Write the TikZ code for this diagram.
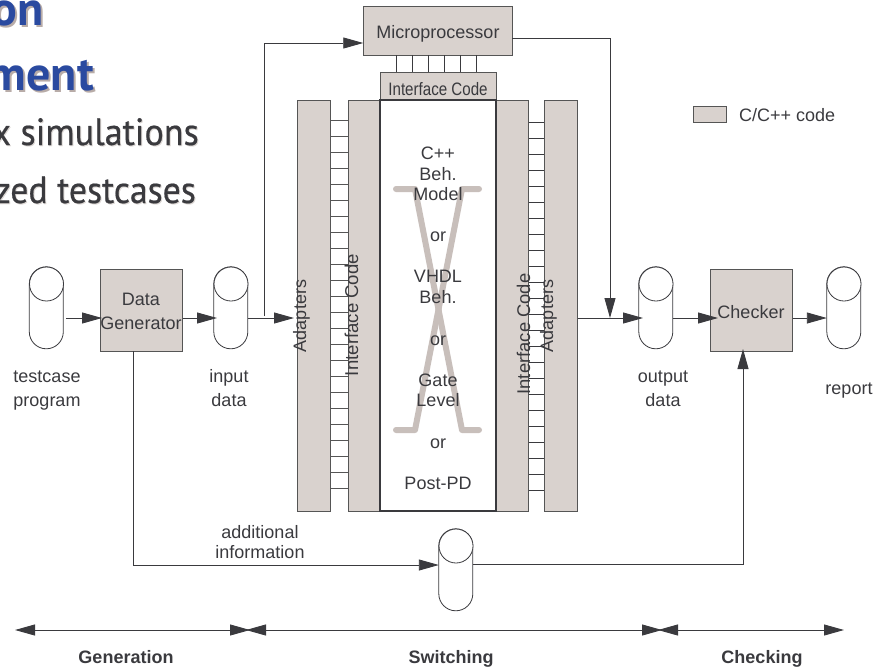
\documentclass[tikz,border=0pt]{standalone}
\usepackage{fontspec}
\setmainfont{Liberation Sans}
\newfontfamily\titlefont{PT Sans}
\newfontfamily\titleb[FakeBold=0.5]{PT Sans}
\usetikzlibrary{arrows.meta}
\definecolor{boxfill}{HTML}{D9D2CE}
\definecolor{ink}{HTML}{3A3A3E}
\definecolor{edge}{HTML}{555555}
\definecolor{xgray}{HTML}{C8BFBB}
\definecolor{titleblue}{HTML}{2A4AA0}
\definecolor{shadowgray}{HTML}{B8ACA8}
\definecolor{faintshadow}{HTML}{DDD8D5}
\tikzset{
  x=1pt,y=-1pt,
  graybox/.style={draw=edge,fill=boxfill,line width=1pt,inner sep=0pt,text=ink},
  lbl/.style={font=\fontsize{18}{18}\selectfont,text=ink,inner sep=0pt,anchor=base},
  rotlbl/.style={lbl,rotate=90},
  boldlbl/.style={lbl,font=\fontsize{18}{18}\selectfont\bfseries},
  conn/.style={draw=ink,line width=0.9pt,-{Triangle[length=20pt,width=11pt]},color=ink},
  plainline/.style={draw=edge,line width=0.9pt},
  dbl/.style={draw=edge,line width=0.9pt,{Triangle[length=20pt,width=11pt]}-{Triangle[length=20pt,width=11pt]},color=ink},
  cylpath/.style={draw=ink,fill=white,line width=0.8pt},
  xline/.style={draw=xgray,line width=6pt,line cap=round,line join=round},
  titleA/.style={font=\titlefont\fontsize{48}{48}\selectfont\bfseries,inner sep=0pt,anchor=base east},
  titleB/.style={font=\titleb\fontsize{38}{38}\selectfont,inner sep=0pt,anchor=base east},
}
\newcommand{\cyl}[3]{% name, left x, top y; 34 wide, 82 high
  \node[minimum width=34pt,minimum height=82pt,inner sep=0pt] (#1) at (#2+17,#3+41) {};
  \path[cylpath] (#1.north west) ++(0,17) -- ++(0,48)
     arc[start angle=180,end angle=360,x radius=17pt,y radius=17pt] -- ++(0,-48)
     arc[start angle=0,end angle=180,x radius=17pt,y radius=17pt] -- cycle;
  \draw[cylpath] (#2+17,#3+17) circle[radius=17pt];
}
\begin{document}
\begin{tikzpicture}
\useasboundingbox (0,0) rectangle (879,670);
\clip (0,0) rectangle (879,670);
% title
\node[titleA,text=shadowgray] at (46,27) {on};
\node[titleA,text=titleblue] (t1) at (44,25) {on};
\node[titleA,text=shadowgray] at (96,92) {ment};
\node[titleA,text=titleblue] (t2) at (94,90) {ment};
\node[titleB,text=faintshadow,xscale=.95] at (200,146) {x simulations};
\node[titleB,text=ink,xscale=.95] (t3) at (199,145) {x simulations};
\node[titleB,text=faintshadow,xscale=.94] at (197,204) {zed testcases};
\node[titleB,text=ink,xscale=.94] (t4) at (196,203) {zed testcases};
% microprocessor
\node[graybox,minimum width=148.5pt,minimum height=49pt] (mp) at (438,30.5) {};
\node[lbl] at (438,38) {Microprocessor};
\foreach \p in {396,412,428,444,460,476} \draw[plainline,draw=ink] (\p,55) -- (\p,72);
% columns
\node[graybox,minimum width=116pt,minimum height=28pt] (ifT) at (438,86) {};
\node[lbl,xscale=.84] at (438,95) {Interface Code};
\node[graybox,minimum width=32.5pt,minimum height=411pt] (adL) at (313.75,305.5) {};
\node[graybox,minimum width=32pt,minimum height=411pt] (ifL) at (364,305.5) {};
\node[graybox,minimum width=32pt,minimum height=411pt] (ifR) at (512,305.5) {};
\node[graybox,minimum width=32.5pt,minimum height=411pt] (adR) at (561,305.5) {};
\foreach \k in {0,...,23} {
  \draw[plainline] (adL.east |- 0,{120+16*\k}) -- (ifL.west |- 0,{120+16*\k});
  \draw[plainline,draw=ink] (ifR.east |- 0,{122+16*\k}) -- (adR.west |- 0,{122+16*\k});
}
\node[draw=ink,fill=white,line width=1.6pt,minimum width=116pt,minimum height=411pt,inner sep=0pt] (core) at (438,305.5) {};
% X
\draw[xline] (396,189) -- (415,189) -- (462,430) -- (479,430);
\draw[xline] (479,189) -- (462,189) -- (415,430) -- (396,430);
% core text
\foreach \t/\y in {C++/159,Beh./180,Model/200,or/241.5,VHDL/282.5,Beh./303,or/345,Gate/386,Level/406,or/448,Post-PD/489}
  \node[lbl] at (438,\y) {\t};
% rotated labels
\node[rotlbl] at (306,316) {Adapters};
\node[rotlbl,font=\fontsize{18.6}{18.6}\selectfont] at (358,315) {Interface Code};
\node[rotlbl,font=\fontsize{18.4}{18.4}\selectfont] at (530,334) {Interface Code};
\node[rotlbl] at (553,316) {Adapters};
% cylinders
\cyl{tc}{29.5}{267}
\cyl{ind}{214}{267}
\cyl{outd}{639}{267}
\cyl{rep}{827}{267}
\cyl{info}{439}{529}
% boxes
\node[graybox,minimum width=82pt,minimum height=82pt] (gen) at (141,310) {};
\node[graybox,minimum width=82pt,minimum height=82pt] (chk) at (751,310) {};
\node[lbl] at (141,305) {Data};
\node[lbl] at (141,329) {Generator};
\node[lbl] at (751,318) {Checker};
% connector coordinates
\coordinate (a0) at (66,318);
\coordinate (a1) at (102,318);
\coordinate (a2) at (217,318);
\coordinate (a3) at (294,318);
\coordinate (a4) at (643,318);
\coordinate (a5) at (718,318);
\coordinate (fb) at (264,316);
\coordinate (fbT) at (264,43);
\coordinate (mpR) at (512,38.5);
\coordinate (mpD) at (610,38.5);
\coordinate (mpE) at (610,318);
\coordinate (gB) at (133,351);
\coordinate (gC) at (133,565);
\coordinate (iR) at (473,564);
\coordinate (iC) at (743,564);
\coordinate (iE) at (743,349);
% connectors
\draw[conn] (a0) -- (a1);
\draw[conn] (gen.east |- a2) -- (a2);
\draw[conn] (ind.east |- a3) -- (a3);
\draw[conn] (adR.east |- a4) -- (a4);
\draw[conn] (outd.east |- a5) -- (a5);
\draw[conn] (chk.east |- a5) -- (rep.west |- a5);
\draw[conn] (fb) -- (fbT) -- (mp.west |- fbT);
\draw[conn] (mpR) -- (mpD) -- (mpE);
\draw[conn] (gB) -- (gC) -- (info.west |- gC);
\draw[conn] (iR) -- (iC) -- (iE);
% labels
\node[lbl] at (47,382) {testcase};
\node[lbl] at (47,406) {program};
\node[lbl] at (229,382) {input};
\node[lbl] at (229,406) {data};
\node[lbl] at (663,382) {output};
\node[lbl] at (663,406) {data};
\node[lbl] at (849,394) {report};
\node[lbl] at (260,538) {additional};
\node[lbl] at (260,558) {information};
% legend
\node[graybox,minimum width=33.5pt,minimum height=16.5pt] (leg) at (710,114.5) {};
\node[lbl,anchor=base west] at (739,121) {C/C++ code};
% bottom spans
\coordinate (s0) at (15,630);
\coordinate (s1a) at (250,630);
\coordinate (s1b) at (246,630);
\coordinate (s2a) at (662,630);
\coordinate (s2b) at (658,630);
\coordinate (s3) at (844,630);
\draw[dbl] (s0) -- (s1a);
\draw[dbl] (s1b) -- (s2a);
\draw[dbl] (s2b) -- (s3);
\node[boldlbl] at (126,663) {Generation};
\node[boldlbl] at (451,663.5) {Switching};
\node[boldlbl] at (762,663) {Checking};
\end{tikzpicture}
\end{document}
